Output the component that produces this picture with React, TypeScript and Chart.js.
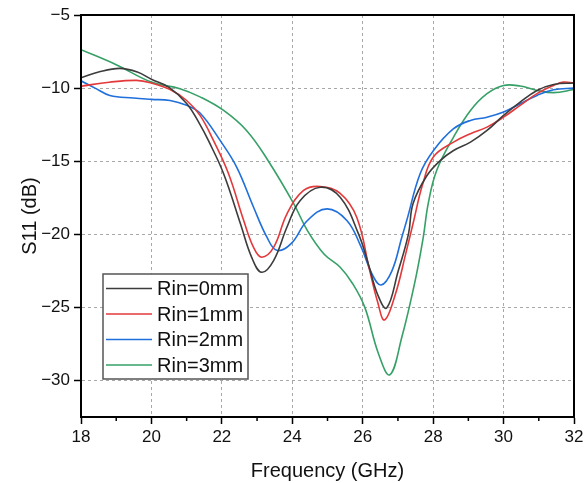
import React, { useEffect, useRef } from "react";
import { Chart, registerables } from "chart.js";

Chart.register(...registerables);

const seriesLabels = ["Rin=0mm", "Rin=1mm", "Rin=2mm", "Rin=3mm"];
const seriesColors = ["#3c3c3c", "#e4393b", "#1f6fdc", "#36a067"];

const xTicks = [18, 20, 22, 24, 26, 28, 30, 32];
const yTicks = [-30, -25, -20, -15, -10, -5];

const rin0X = [18, 18.5, 19.1, 19.6, 20, 20.5, 21.0, 21.38, 21.62, 22.05, 22.53, 22.85, 23.13, 23.47, 23.85, 24.22, 24.79, 25.36, 25.88, 26.16, 26.42, 26.68, 27.01, 27.3, 27.43, 27.82, 28.2, 28.58, 29.06, 29.53, 30.0, 30.47, 30.95, 31.42, 32];
const rin0Y = [-9.3, -8.9, -8.65, -8.9, -9.4, -9.95, -11.05, -12.5, -13.6, -15.86, -19.3, -21.6, -22.6, -21.8, -19.5, -17.7, -16.78, -17.47, -19.97, -22.03, -24.1, -25.04, -22.5, -19.97, -17.9, -16.0, -14.96, -14.27, -13.7, -12.9, -11.87, -10.96, -10.16, -9.75, -9.65];

const rin1X = [18, 18.8, 19.58, 20, 20.53, 21.0, 21.38, 21.76, 22.19, 22.62, 22.9, 23.13, 23.47, 23.85, 24.32, 24.79, 25.36, 25.83, 26.2, 26.42, 26.62, 26.93, 27.22, 27.45, 27.7, 28.01, 28.58, 29.06, 29.53, 30.0, 30.47, 30.95, 31.42, 31.7, 32];
const rin1Y = [-9.87, -9.6, -9.47, -9.65, -10.1, -10.85, -11.87, -13.58, -15.86, -19.06, -20.9, -21.57, -20.9, -18.6, -17.0, -16.73, -17.2, -18.84, -22.5, -24.6, -25.86, -24.08, -21.34, -19.06, -16.6, -14.7, -13.7, -13.12, -12.67, -11.99, -11.18, -10.38, -9.82, -9.59, -9.65];

const rin2X = [18, 18.4, 18.82, 19.49, 20, 20.53, 21.0, 21.38, 21.95, 22.42, 22.9, 23.28, 23.56, 23.96, 24.43, 24.99, 25.55, 25.96, 26.26, 26.52, 26.83, 27.11, 27.25, 27.63, 28.01, 28.58, 29.06, 29.53, 30.0, 30.47, 30.95, 31.42, 32];
const rin2Y = [-9.5, -10.0, -10.5, -10.68, -10.77, -10.85, -11.18, -11.7, -13.58, -15.4, -18.15, -20.2, -21.1, -20.66, -19.06, -18.26, -19.06, -20.9, -22.7, -23.47, -22.5, -20.2, -19.06, -15.86, -14.27, -12.78, -12.21, -11.99, -11.64, -11.07, -10.5, -10.11, -10.0];

const rin3X = [18, 19, 20, 20.81, 21.38, 22.05, 22.7, 23.31, 24.04, 24.43, 24.9, 25.36, 25.72, 26.06, 26.45, 26.77, 27.11, 27.49, 27.72, 27.86, 28.1, 28.58, 29.06, 29.53, 30.0, 30.47, 30.95, 31.42, 32];
const rin3Y = [-7.37, -8.4, -9.59, -10.04, -10.6, -11.53, -12.9, -14.95, -17.9, -19.75, -21.35, -22.26, -23.4, -25.0, -28.19, -29.61, -27.05, -23.17, -20.2, -17.9, -15.64, -13.35, -11.53, -10.38, -9.82, -9.86, -10.16, -10.31, -10.1];

const seriesX = [rin0X, rin1X, rin2X, rin3X];
const seriesY = [rin0Y, rin1Y, rin2Y, rin3Y];

const FONT = "Arial, 'Liberation Sans', sans-serif";
const fmt = (v: number) => String(v).replace("-", "\u2212");

const framePlugin = {
  id: "frame",
  afterDraw(chart: any) {
    const { ctx, chartArea: ca, scales } = chart;
    const xs = scales.x;
    const ys = scales.y;
    ctx.save();
    ctx.strokeStyle = "#000";
    ctx.lineWidth = 1.5;
    ctx.beginPath();
    for (let v = 19; v < 32; v += 2) {
      const px = xs.getPixelForValue(v);
      ctx.moveTo(px, ca.bottom);
      ctx.lineTo(px, ca.bottom + 4);
    }
    for (let v = -27.5; v > -5; v += 5) {
      const py = ys.getPixelForValue(v);
      ctx.moveTo(ca.left, py);
      ctx.lineTo(ca.left - 4, py);
    }
    ctx.stroke();
    ctx.lineWidth = 2;
    ctx.strokeRect(ca.left, ca.top, ca.right - ca.left, ca.bottom - ca.top);

    const lx = 103, ly = 274, lw = 145, lh = 105;
    ctx.fillStyle = "#fff";
    ctx.fillRect(lx, ly, lw, lh);
    ctx.strokeStyle = "#555";
    ctx.lineWidth = 1.5;
    ctx.strokeRect(lx, ly, lw, lh);
    ctx.font = `20px ${FONT}`;
    ctx.textBaseline = "middle";
    ctx.textAlign = "left";
    chart.data.datasets.forEach((ds: any, i: number) => {
      const cy = ly + 14.5 + i * 25.5;
      ctx.strokeStyle = ds.borderColor;
      ctx.lineWidth = 1.5;
      ctx.beginPath();
      ctx.moveTo(lx + 3, cy);
      ctx.lineTo(lx + 49, cy);
      ctx.stroke();
      ctx.fillStyle = "#111";
      ctx.fillText(ds.label, lx + 54, cy + 1);
    });
    ctx.restore();
  },
};

export default function App() {
  const ref = useRef<HTMLCanvasElement | null>(null);
  useEffect(() => {
    document.body.style.margin = "0";
    const canvas = ref.current!;
    const datasets = seriesLabels.map((label, i) => ({
      label,
      data: seriesX[i].map((x, j) => ({ x, y: seriesY[i][j] })),
      borderColor: seriesColors[i],
      backgroundColor: seriesColors[i],
      borderWidth: 1.6,
      pointRadius: 0,
      tension: 0.4,
      fill: false,
    }));
    const chart = new Chart(canvas, {
      type: "line",
      data: { datasets },
      plugins: [framePlugin],
      options: {
        responsive: false,
        animation: false,
        devicePixelRatio: 1,
        layout: { padding: { top: 15, right: 14, left: 0, bottom: 0 } },
        plugins: { legend: { display: false }, tooltip: { enabled: false } },
        scales: {
          x: {
            type: "linear",
            min: 18,
            max: 32,
            afterBuildTicks: (s: any) => {
              s.ticks = xTicks.map((v) => ({ value: v }));
            },
            afterFit: (s: any) => {
              s.height = 66;
            },
            ticks: {
              color: "#111",
              font: { size: 17, family: FONT },
              padding: 3,
              maxRotation: 0,
              callback: (v: any) => fmt(Number(v)),
            },
            grid: {
              color: "#a8a8a8",
              lineWidth: 1,
              tickColor: "#000",
              tickLength: 7,
              tickWidth: 1.5,
            },
            border: { display: true, color: "#000", width: 2, dash: [3, 3] },
            title: {
              display: true,
              text: "Frequency (GHz)",
              color: "#111",
              font: { size: 20, family: FONT },
              padding: { top: 4, bottom: 0 },
            },
          },
          y: {
            type: "linear",
            min: -32.5,
            max: -5,
            afterBuildTicks: (s: any) => {
              s.ticks = yTicks.map((v) => ({ value: v }));
            },
            afterFit: (s: any) => {
              s.width = 81;
            },
            ticks: {
              color: "#111",
              font: { size: 17, family: FONT },
              padding: 4,
              callback: (v: any) => fmt(Number(v)),
            },
            grid: {
              color: "#a8a8a8",
              lineWidth: 1,
              tickColor: "#000",
              tickLength: 7,
              tickWidth: 1.5,
            },
            border: { display: true, color: "#000", width: 2, dash: [3, 3] },
            title: {
              display: true,
              text: "S11 (dB)",
              color: "#111",
              font: { size: 20, family: FONT },
              padding: { top: 18, bottom: 0 },
            },
          },
        },
      },
    });
    return () => chart.destroy();
  }, []);
  return (
    <div style={{ position: "fixed", left: 0, top: 0, width: 588, height: 483, background: "#fff" }}>
      <canvas ref={ref} width={588} height={483} />
    </div>
  );
}
